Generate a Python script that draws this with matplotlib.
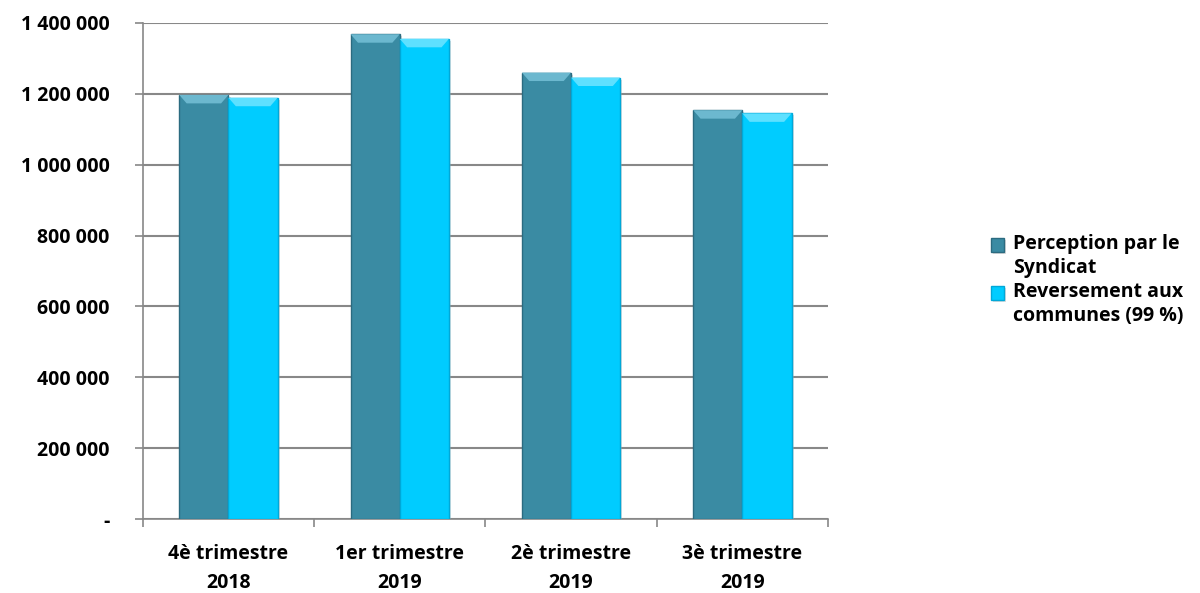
import matplotlib
matplotlib.use("Agg")
import matplotlib.pyplot as plt
import numpy as np
from matplotlib.patches import Polygon, Rectangle
import matplotlib.patheffects as pe
from matplotlib.ticker import FuncFormatter
from matplotlib.legend_handler import HandlerPatch
from matplotlib.container import BarContainer

categories = ["4è trimestre\n2018", "1er trimestre\n2019", "2è trimestre\n2019", "3è trimestre\n2019"]
perception = [1196000, 1367000, 1259000, 1153000]
reversement = [1188000, 1354000, 1245000, 1144000]
series_labels = ["Perception par le\nSyndicat", "Reversement aux\ncommunes (99 %)"]
y_ticks = [0, 200000, 400000, 600000, 800000, 1000000, 1200000, 1400000]

plt.rcParams['font.family'] = ['Open Sans', 'DejaVu Sans']

fig = plt.figure(figsize=(12, 5.93), dpi=100)
ax = fig.add_axes([0.119, 0.124, 0.571, 0.838])

x = np.arange(len(categories))
w = 0.287
colors = ["#3A8BA3", "#00CCFF"]
edge = ["#2B6B80", "#00A8D8"]
caps = ["#6CB8CF", "#5EE0FF"]

for i, (vals, off) in enumerate([(perception, -w / 2), (reversement, w / 2)]):
    bars = ax.bar(x + off, vals, width=w, color=colors[i], edgecolor=edge[i], linewidth=1.0,
                  label=series_labels[i], zorder=3)
    for b in bars:
        b.set_path_effects([pe.SimplePatchShadow(offset=(1.5, -1.5), shadow_rgbFace="#aaaaaa", alpha=0.4), pe.Normal()])
        x0 = b.get_x(); x1 = x0 + b.get_width(); top = b.get_height()
        dx = b.get_width() * 0.15
        dy = 1400000 * 0.017
        poly = Polygon([[x0, top], [x1, top], [x1 - dx, top - dy], [x0 + dx, top - dy]],
                       closed=True, facecolor=caps[i], edgecolor='none', zorder=4)
        ax.add_patch(poly)

ax.set_xlim(-0.5, 3.5)
ax.set_ylim(0, 1400000)
ax.set_yticks(y_ticks)

def fmt(v, pos):
    if v == 0:
        return "-"
    return f"{int(v):,}".replace(",", " ")
ax.yaxis.set_major_formatter(FuncFormatter(fmt))

ax.set_xticks(np.arange(-0.5, 4, 1.0))
ax.set_xticklabels([])
ax.set_xticks(x, minor=True)
ax.set_xticklabels(categories, minor=True, fontsize=14, fontweight='bold', linespacing=1.6)
ax.tick_params(axis='x', which='minor', length=0, pad=18)
ax.tick_params(axis='x', which='major', length=6, color='#888888', width=1.2, direction='out')
ax.tick_params(axis='y', length=6, color='#888888', width=1.2, direction='out', labelsize=14, pad=18)
for lbl in ax.get_yticklabels():
    lbl.set_fontweight('bold')

ax.grid(axis='y', color='#888888', linewidth=1.5, zorder=0)
ax.set_axisbelow(True)
for s in ['top', 'right']:
    ax.spines[s].set_visible(False)
ax.spines['left'].set_color('#888888')
ax.spines['bottom'].set_color('#888888')
ax.spines['left'].set_linewidth(1.2)
ax.spines['bottom'].set_linewidth(1.2)


def make_rect(legend, orig_handle, xdescent, ydescent, width, height, fontsize):
    return Rectangle((-xdescent, -ydescent + 0.6 * fontsize), width, height)


def update_first(legend_handle, orig_handle):
    legend_handle.update_from(orig_handle[0])


leg = fig.legend(loc='center left', bbox_to_anchor=(0.811, 0.528), frameon=False,
                 prop={'size': 14, 'weight': 'bold'}, handlelength=0.7, handleheight=0.7,
                 handletextpad=0.45, labelspacing=0.2,
                 handler_map={BarContainer: HandlerPatch(patch_func=make_rect, update_func=update_first)})
for t in leg.get_texts():
    t.set_linespacing(1.25)

fig.savefig("out.png", dpi=100)
